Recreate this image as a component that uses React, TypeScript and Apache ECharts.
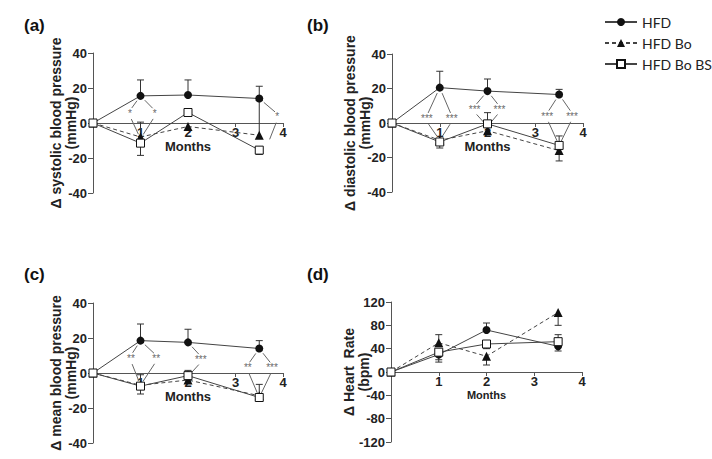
import React, { useEffect, useRef } from "react";
import * as echarts from "echarts";

// x positions (months)
const months = [0, 1, 2, 3.5];

// (a) systolic
const sbpHFD = [0, 15.5, 16, 14];
const sbpHFDTip = [null, 24.6, 24.6, 21];
const sbpBo = [0, -8, -2, -7];
const sbpBoTip = [null, 0.5, null, 13];
const sbpBS = [0, -11.5, 6, -15.5];
const sbpBSTip = [null, -18.5, null, -18];
// [xTop, yTop, xStar, yStar, xBottom, yBottom, label]
const sigA: [number, number, number, number, number, number, string][] = [
  [1, 15.5, 0.78, 5.5, 1, -9, "*"],
  [1, 15.5, 1.3, 5.5, 1, -9, "*"],
  [3.5, 14, 3.88, 3.5, 3.68, -12, "*"],
];

// (b) diastolic
const dbpHFD = [0, 20.5, 18.5, 16.5];
const dbpHFDTip = [null, 30, 25.5, 19.5];
const dbpBo = [0, -10, -4.5, -16];
const dbpBoTip = [null, null, null, -22];
const dbpBS = [0, -11, -0.5, -13];
const dbpBSTip = [null, -14.5, 6, -7.5];
const sigB: [number, number, number, number, number, number, string][] = [
  [1, 20.5, 0.73, 2.5, 1, -10, "***"],
  [1, 20.5, 1.25, 2.5, 1, -10, "***"],
  [2, 18.5, 1.73, 8, 2, -2, "***"],
  [2, 18.5, 2.25, 8, 2, -2, "***"],
  [3.5, 16.5, 3.25, 4, 3.5, -13, "***"],
  [3.5, 16.5, 3.77, 4, 3.5, -13, "***"],
];

// (c) mean
const mbpHFD = [0, 18.5, 17.5, 14];
const mbpHFDTip = [null, 28, 25, 18.5];
const mbpBo = [0, -7, -4, -13];
const mbpBoTip = [null, -1, null, null];
const mbpBS = [0, -7.5, -1.5, -14];
const mbpBSTip = [null, -12, 1.5, -6.5];
const sigC: [number, number, number, number, number, number, string][] = [
  [1, 18.5, 0.8, 8.4, 1, -7, "**"],
  [1, 18.5, 1.33, 8.4, 1, -7, "**"],
  [2, 17.5, 2.27, 7.8, 2, -2, "***"],
  [3.5, 14, 3.26, 3, 3.5, -14, "**"],
  [3.5, 14, 3.77, 3, 3.5, -14, "***"],
];

// (d) heart rate
const hrHFD = [0, 30, 72, 44];
const hrHFDTip = [null, 17, 84, 36];
const hrBo = [0, 50, 27, 102];
const hrBoTip = [null, 64, 12, 80];
const hrBS = [0, 34, 48, 52];
const hrBSTip = [null, 21, 40, 64];
const sigD: [number, number, number, number, number, number, string][] = [];

const seriesNames = ["HFD", "HFD Bo", "HFD Bo BS"];
const panelLabels = ["(a)", "(b)", "(c)", "(d)"];
const yNames = [
  "Δ systolic blood pressure\n(mmHg)",
  "Δ diastolic blood pressure\n(mmHg)",
  "Δ mean blood pressure\n(mmHg)",
  "Δ Heart  Rate\n(bpm)",
];
const yRanges = [
  [-40, 40, 20],
  [-40, 40, 20],
  [-40, 40, 20],
  [-120, 120, 40],
];

const panelData = [
  { vals: [sbpHFD, sbpBo, sbpBS], tips: [sbpHFDTip, sbpBoTip, sbpBSTip], sig: sigA },
  { vals: [dbpHFD, dbpBo, dbpBS], tips: [dbpHFDTip, dbpBoTip, dbpBSTip], sig: sigB },
  { vals: [mbpHFD, mbpBo, mbpBS], tips: [mbpHFDTip, mbpBoTip, mbpBSTip], sig: sigC },
  { vals: [hrHFD, hrBo, hrBS], tips: [hrHFDTip, hrBoTip, hrBSTip], sig: sigD },
];

const grids = [
  { left: 93, top: 53, width: 190, height: 140 },
  { left: 392, top: 54, width: 191, height: 138 },
  { left: 93, top: 303, width: 190, height: 140 },
  { left: 391, top: 302, width: 191, height: 140 },
];
const nameGaps = [15, 20, 15, 20];
const labelPos = [
  [24, 17],
  [307, 17],
  [24, 266],
  [307, 266],
];

const FONT = "'Liberation Sans', Arial, sans-serif";
const LINE = "#444";
const MARK = "#111";

const symbols = ["circle", "triangle", "rect"];
const symbolSizes = [8, 9, 8];

export default function App() {
  const ref = useRef<HTMLDivElement>(null);
  useEffect(() => {
    if (!ref.current) return;
    const chart = echarts.init(ref.current, null, { renderer: "svg" });

    const xAxes: any[] = [];
    const yAxes: any[] = [];
    const series: any[] = [];

    grids.forEach((g, p) => {
      const r = yRanges[p];
      // place the x axis at y = 0 inside the grid
      const zeroOffset = -g.height * ((0 - r[0]) / (r[1] - r[0]));
      xAxes.push({
        type: "value",
        gridIndex: p,
        min: 0,
        max: 4,
        interval: 1,
        offset: zeroOffset,
        name: "Months",
        nameLocation: "middle",
        nameGap: p === 3 ? 17 : 17,
        nameMoveOverlap: false,
        nameTextStyle: {
          fontFamily: FONT,
          fontWeight: "bold",
          fontSize: p === 3 ? 11 : 13,
          color: "#222",
        },
        axisLine: { onZero: false, lineStyle: { color: "#555", width: 1 } },
        axisTick: { show: true, length: 4, lineStyle: { color: "#555" } },
        axisLabel: {
          fontFamily: FONT,
          fontWeight: "bold",
          fontSize: 13,
          color: "#222",
          margin: 3,
          formatter: (v: number) => (v === 0 ? "" : String(v)),
        },
        splitLine: { show: false },
      });
      yAxes.push({
        type: "value",
        gridIndex: p,
        min: r[0],
        max: r[1],
        interval: r[2],
        name: yNames[p],
        nameLocation: "middle",
        nameGap: nameGaps[p],
        nameMoveOverlap: false,
        nameTextStyle: {
          fontFamily: FONT,
          fontWeight: "bold",
          fontSize: 14,
          color: "#222",
          lineHeight: 15,
        },
        axisLine: { show: true, onZero: false, lineStyle: { color: "#555", width: 1 } },
        axisTick: { show: true, length: 5, lineStyle: { color: "#555" } },
        axisLabel: {
          fontFamily: FONT,
          fontWeight: "bold",
          fontSize: 13,
          color: "#222",
          margin: 6,
        },
        splitLine: { show: false },
      });

      const pd = panelData[p];
      pd.vals.forEach((vals, s) => {
        const tips = pd.tips[s];
        const errData: any[] = [];
        tips.forEach((t, i) => {
          if (t !== null && t !== undefined) errData.push([months[i], vals[i], t]);
        });
        series.push({
          type: "custom",
          name: "err" + p + "-" + s,
          xAxisIndex: p,
          yAxisIndex: p,
          z: 1,
          silent: true,
          itemStyle: { color: "#333" },
          data: errData,
          renderItem: (params: any, api: any) => {
            const a = api.coord([api.value(0), api.value(1)]);
            const b = api.coord([api.value(0), api.value(2)]);
            return {
              type: "group",
              children: [
                {
                  type: "line",
                  shape: { x1: a[0], y1: a[1], x2: b[0], y2: b[1] },
                  style: { stroke: "#333", lineWidth: 1 },
                },
                {
                  type: "line",
                  shape: { x1: b[0] - 3.5, y1: b[1], x2: b[0] + 3.5, y2: b[1] },
                  style: { stroke: "#333", lineWidth: 1 },
                },
              ],
            };
          },
        });
        series.push({
          type: "line",
          name: seriesNames[s],
          xAxisIndex: p,
          yAxisIndex: p,
          z: s === 2 ? 4 : 3,
          data: vals.map((v, i) => [months[i], v]),
          symbol: symbols[s],
          symbolSize: symbolSizes[s],
          showAllSymbol: true,
          lineStyle: { color: LINE, width: 1, type: s === 1 ? [4, 3] : "solid" },
          itemStyle:
            s === 2
              ? { color: "#fff", borderColor: MARK, borderWidth: 1 }
              : { color: MARK, borderColor: MARK, borderWidth: 0 },
        });
      });

      if (pd.sig.length) {
        const sig = pd.sig;
        series.push({
          type: "custom",
          name: "sig" + p,
          xAxisIndex: p,
          yAxisIndex: p,
          z: 2,
          silent: true,
          itemStyle: { color: "#666" },
          data: sig.map((a) => [a[2], a[3]]),
          renderItem: (params: any, api: any) => {
            const a = sig[params.dataIndex];
            const top = api.coord([a[0], a[1]]);
            const star = api.coord([a[2], a[3]]);
            const bot = api.coord([a[4], a[5]]);
            const cut = (p1: number[], p2: number[], g1: number, g2: number) => {
              const dx = p2[0] - p1[0];
              const dy = p2[1] - p1[1];
              const L = Math.sqrt(dx * dx + dy * dy) || 1;
              return {
                x1: p1[0] + (dx / L) * g1,
                y1: p1[1] + (dy / L) * g1,
                x2: p2[0] - (dx / L) * g2,
                y2: p2[1] - (dy / L) * g2,
              };
            };
            return {
              type: "group",
              children: [
                {
                  type: "line",
                  shape: cut(top, [star[0], star[1] - 3], 6, 3),
                  style: { stroke: "#666", lineWidth: 1 },
                },
                {
                  type: "line",
                  shape: cut([star[0], star[1] + 3], bot, 3, 5),
                  style: { stroke: "#666", lineWidth: 1 },
                },
                {
                  type: "text",
                  x: star[0],
                  y: star[1],
                  style: {
                    text: a[6],
                    fill: "#6a6a6a",
                    fontSize: 10,
                    fontFamily: FONT,
                    align: "center",
                    verticalAlign: "middle",
                  },
                },
              ],
            };
          },
        });
      }
    });

    chart.setOption({
      animation: false,
      backgroundColor: "#fff",
      grid: grids.map((g) => ({ ...g, containLabel: false })),
      xAxis: xAxes,
      yAxis: yAxes,
      legend: {
        data: seriesNames,
        orient: "vertical",
        left: 604,
        top: 15,
        padding: 0,
        itemWidth: 32,
        itemHeight: 10,
        itemGap: 7,
        textStyle: { fontFamily: "Lato, 'Open Sans', sans-serif", fontSize: 14, color: "#222" },
        selectedMode: false,
      },
      graphic: panelLabels.map((t, i) => ({
        type: "text",
        left: labelPos[i][0],
        top: labelPos[i][1],
        style: { text: t, font: "bold 17px " + FONT, fill: "#111" },
      })),
      series,
    });
    return () => chart.dispose();
  }, []);
  return (
    <div
      ref={ref}
      style={{ width: 712, height: 459, position: "fixed", left: 0, top: 0 }}
    />
  );
}
